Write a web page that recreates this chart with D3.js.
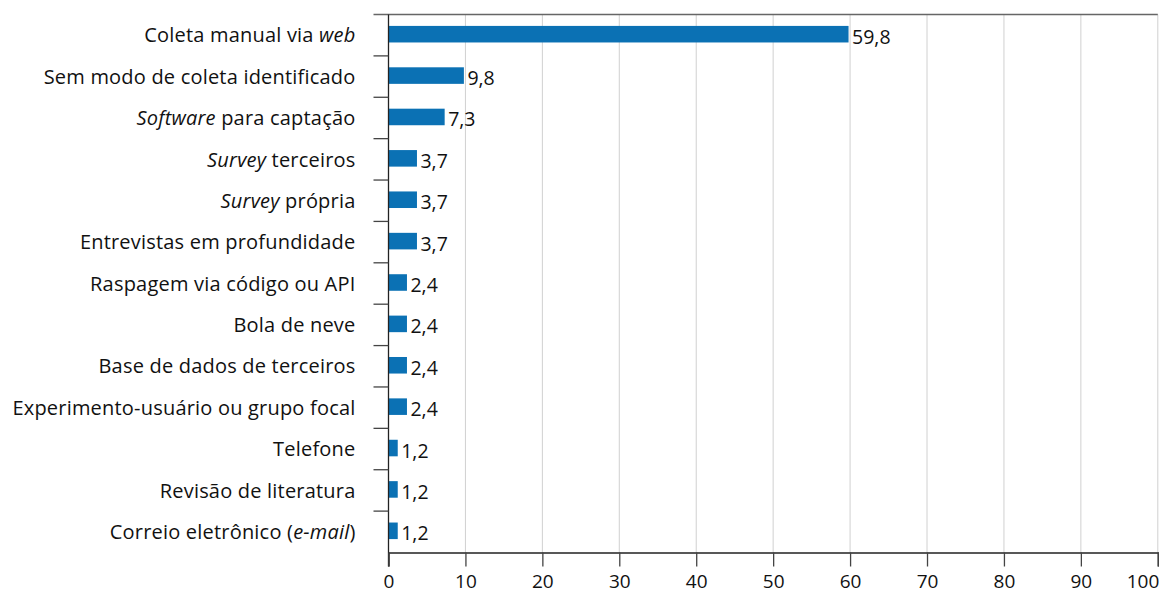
<!DOCTYPE html>
<html>
<head>
<meta charset="utf-8">
<script src="https://cdn.jsdelivr.net/npm/d3@7/dist/d3.min.js"></script>
<style>
  body { margin: 0; background: #fff; }
  svg { display: block; font-family: "Open Sans", "Noto Sans", sans-serif; }
</style>
</head>
<body>
<svg id="chart" width="1159" height="595"></svg>
<script>
// Categories, top to bottom; segments flagged true are set in italics
const categories = [
  [["Coleta manual via ", false], ["web", true]],
  [["Sem modo de coleta identificado", false]],
  [["Software", true], [" para captação", false]],
  [["Survey", true], [" terceiros", false]],
  [["Survey", true], [" própria", false]],
  [["Entrevistas em profundidade", false]],
  [["Raspagem via código ou API", false]],
  [["Bola de neve", false]],
  [["Base de dados de terceiros", false]],
  [["Experimento-usuário ou grupo focal", false]],
  [["Telefone", false]],
  [["Revisão de literatura", false]],
  [["Correio eletrônico (", false], ["e-mail", true], [")", false]]
];
const values = [59.8, 9.8, 7.3, 3.7, 3.7, 3.7, 2.4, 2.4, 2.4, 2.4, 1.2, 1.2, 1.2];
const xTicks = [0, 10, 20, 30, 40, 50, 60, 70, 80, 90, 100];

const svg = d3.select("#chart");
const plotL = 388.5, plotR = 1157.8, plotT = 14.5, plotB = 552.5;

const x = d3.scaleLinear().domain([0, 100]).range([plotL, plotR]);
const idx = d3.range(categories.length);
const y = d3.scaleBand().domain(idx).range([plotT, plotB]).paddingInner(0.6).paddingOuter(0.3);
const band = d3.scaleBand().domain(idx).range([plotT, plotB]);

const fmt = v => d3.format(".1f")(v).replace(".", ",");

// vertical gridlines
svg.append("g").selectAll("line").data(xTicks.slice(1)).join("line")
  .attr("x1", d => x(d)).attr("x2", d => x(d))
  .attr("y1", plotT).attr("y2", plotB)
  .attr("stroke", "#d0d0d0").attr("stroke-width", 1);

// top rule
svg.append("line").attr("x1", plotL - 15).attr("x2", plotR)
  .attr("y1", plotT).attr("y2", plotT).attr("stroke", "#666").attr("stroke-width", 1.3);

// bars
svg.append("g").selectAll("rect").data(values).join("rect")
  .attr("x", x(0))
  .attr("y", (d, i) => y(i) - 1)
  .attr("width", d => x(d) - x(0))
  .attr("height", y.bandwidth())
  .attr("fill", "#0b71b4");

// value labels
svg.append("g").selectAll("text").data(values).join("text")
  .attr("x", d => x(d) + 3.5)
  .attr("y", (d, i) => y(i) + y.bandwidth() / 2 + 1.5)
  .attr("dy", "0.36em")
  .attr("font-size", 19.5)
  .attr("fill", "#111")
  .text(d => fmt(d));

// left axis with ticks at band boundaries
const yAxis = svg.append("g");
yAxis.append("line").attr("x1", plotL).attr("x2", plotL).attr("y1", plotT).attr("y2", plotB + 14)
  .attr("stroke", "#222").attr("stroke-width", 1.3);
yAxis.selectAll("line.tick").data(idx.slice(1)).join("line").attr("class", "tick")
  .attr("x1", plotL - 15).attr("x2", plotL)
  .attr("y1", d => band(d)).attr("y2", d => band(d))
  .attr("stroke", "#444").attr("stroke-width", 1.3);

// category labels
const labels = yAxis.selectAll("text").data(categories).join("text")
  .attr("x", plotL - 33)
  .attr("y", (d, i) => y(i) + y.bandwidth() / 2)
  .attr("dy", "0.36em")
  .attr("text-anchor", "end")
  .attr("font-size", 20)
  .attr("letter-spacing", 0.2)
  .attr("fill", "#111");
labels.selectAll("tspan").data(d => d).join("tspan")
  .attr("font-style", d => d[1] ? "italic" : "normal")
  .text(d => d[0]);

// bottom axis
const xAxis = d3.axisBottom(x).tickValues(xTicks).tickSize(14).tickPadding(8.5).tickFormat(d3.format("d"));
const gx = svg.append("g").attr("transform", `translate(0,${plotB})`).call(xAxis);
gx.select(".domain").attr("stroke", "#222").attr("stroke-width", 1.3);
gx.selectAll(".tick line").attr("stroke", "#444").attr("stroke-width", 1.3);
gx.selectAll(".tick text").attr("font-size", 19).attr("fill", "#111")
  .attr("font-family", "\"Open Sans\", \"Noto Sans\", sans-serif");
// keep the last tick label inside the frame
gx.selectAll(".tick text").filter(d => d === 100).attr("text-anchor", "end").attr("x", 1);
</script>
</body>
</html>
